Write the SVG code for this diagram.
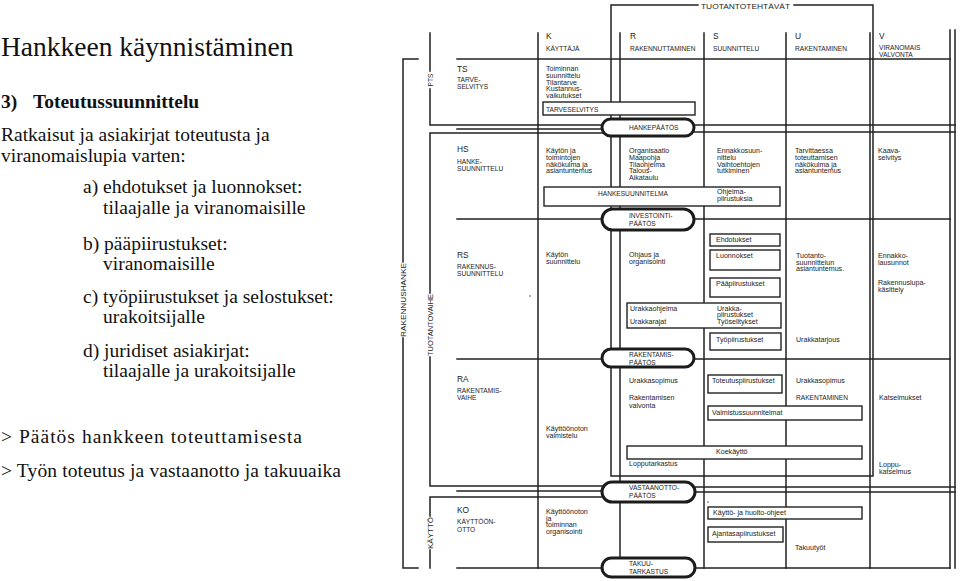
<svg xmlns="http://www.w3.org/2000/svg" width="960" height="581" viewBox="0 0 960 581">
<style>
.bg{fill:#fff}
.ser{font-family:"Liberation Serif","Times New Roman",serif;fill:#111;font-size:19.5px}
.t{font-family:"Liberation Sans",Arial,sans-serif;font-size:7.1px;fill:#1c1c1c}
.c{font-family:"Liberation Sans",Arial,sans-serif;font-size:6.6px;fill:#1c1c1c}
.h{font-family:"Liberation Sans",Arial,sans-serif;font-size:8.4px;fill:#1c1c1c}
.ln{fill:none;stroke:#222;stroke-width:1.5;stroke-linecap:square}
.box{fill:#fff;stroke:#222;stroke-width:1.4}
.pill{fill:#fff;stroke:#1c1c1c;stroke-width:3}
</style>
<rect class="bg" x="0" y="0" width="960" height="581"/>

<g id="left-text">
<text class="ser" x="1" y="56" style="font-size:27.5px">Hankkeen käynnistäminen</text>
<text class="ser" x="1" y="108" font-weight="bold">3)</text>
<text class="ser" x="33" y="108" font-weight="bold">Toteutussuunnittelu</text>
<text class="ser" x="1" y="141">Ratkaisut ja asiakirjat toteutusta ja</text>
<text class="ser" x="1" y="162">viranomaislupia varten:</text>
<text class="ser" x="83" y="193">a) ehdotukset ja luonnokset:</text>
<text class="ser" x="103" y="214">tilaajalle ja viranomaisille</text>
<text class="ser" x="83" y="250">b) pääpiirustukset:</text>
<text class="ser" x="103" y="270">viranomaisille</text>
<text class="ser" x="83" y="303">c) työpiirustukset ja selostukset:</text>
<text class="ser" x="103" y="323">urakoitsijalle</text>
<text class="ser" x="83" y="357">d) juridiset asiakirjat:</text>
<text class="ser" x="103" y="377">tilaajalle ja urakoitsijalle</text>
<text class="ser" x="1" y="443" textLength="301" lengthAdjust="spacing">&gt; Päätös hankkeen toteuttamisesta</text>
<text class="ser" x="1" y="477" textLength="340" lengthAdjust="spacing">&gt; Työn toteutus ja vastaanotto ja takuuaika</text>
</g>

<g id="connectors">
<path class="ln" d="M418,59 H403 V262 M403,338 V568 H418"/>
<path class="ln" d="M430,33 V71 M430,89 V125 H603"/>
<path class="ln" d="M457,129 H603"/>
<path class="ln" d="M603,133 H430 V293 M430,357 V486 H603"/>
<path class="ln" d="M457,491 H603"/>
<path class="ln" d="M603,497 H430 V516 M430,550 V568"/>
<path class="ln" d="M698,5 H611 V476 H873 V5 H794"/>
<path class="ln" d="M538,33 V568 M620,33 V568 M704,33 V568 M786,33 V568 M870,33 V568 M950,30 V568 M955,30 V568"/>
<path class="ln" d="M457,59 H950"/>
<path class="ln" d="M693,125 H955 M693,132 H955"/>
<path class="ln" d="M457,219 H603 M693,219 H950"/>
<path class="ln" d="M457,359 H603 M693,359 H950"/>
<path class="ln" d="M693,487 H955 M693,492 H955"/>
<path class="ln" d="M457,568 H603 M693,568 H950"/>
<circle cx="530" cy="296" r="0.8" fill="#444"/>
<circle cx="708" cy="502" r="0.8" fill="#444"/>
</g>

<g id="bracket-labels">
<text class="c" transform="translate(432.5,80) rotate(-90)" text-anchor="middle">PTS</text>
<text class="c" transform="translate(432.5,325) rotate(-90)" text-anchor="middle" textLength="62" lengthAdjust="spacingAndGlyphs">TUOTANTOVAIHE</text>
<text class="c" transform="translate(432.5,533) rotate(-90)" text-anchor="middle" textLength="32" lengthAdjust="spacingAndGlyphs">KÄYTTÖ</text>
<text class="c" transform="translate(405.5,300) rotate(-90)" text-anchor="middle" textLength="74" lengthAdjust="spacingAndGlyphs">RAKENNUSHANKE</text>
<text class="c" x="701" y="8.5" textLength="89" lengthAdjust="spacingAndGlyphs">TUOTANTOTEHTÄVÄT</text>
</g>

<g id="header">
<text class="h" x="546" y="39">K</text><text class="c" x="546" y="51">KÄYTTÄJÄ</text>
<text class="h" x="630" y="39">R</text><text class="c" x="630" y="51">RAKENNUTTAMINEN</text>
<text class="h" x="713" y="39">S</text><text class="c" x="713" y="51">SUUNNITTELU</text>
<text class="h" x="795" y="39">U</text><text class="c" x="795" y="51">RAKENTAMINEN</text>
<text class="h" x="879" y="39">V</text><text class="c" x="879" y="50">VIRANOMAIS</text><text class="c" x="879" y="57">VALVONTA</text>
</g>

<g id="row-ts">
<text class="h" x="457" y="72">TS</text>
<text class="c" x="457" y="82">TARVE-</text><text class="c" x="457" y="88.5">SELVITYS</text>
<text class="t" x="546" y="71">Toiminnan</text>
<text class="t" x="546" y="78">suunnittelu</text>
<text class="t" x="546" y="84.5">Tilantarve</text>
<text class="t" x="546" y="91">Kustannus-</text>
<text class="t" x="546" y="98">vaikutukset</text>
</g>
<g id="box-tarveselvitys">
<rect class="box" x="543" y="102" width="152" height="13"/>
<text class="c" x="546" y="111.5">TARVESELVITYS</text>
</g>
<g id="pill-hankepaatos">
<rect class="pill" x="602" y="119" width="92" height="17" rx="8.5"/>
<text class="c" x="629" y="130">HANKEPÄÄTÖS</text>
</g>

<g id="row-hs">
<text class="h" x="457" y="152">HS</text>
<text class="c" x="457" y="164">HANKE-</text><text class="c" x="457" y="170.5">SUUNNITTELU</text>
<text class="t" x="546" y="153">Käytön ja</text>
<text class="t" x="546" y="160">toimintojen</text>
<text class="t" x="546" y="166.5">näkökulma ja</text>
<text class="t" x="546" y="173">asiantuntemus</text>
<text class="t" x="629" y="153">Organisaatio</text>
<text class="t" x="629" y="160">Maapohja</text>
<text class="t" x="629" y="166.5">Tilaohjelma</text>
<text class="t" x="629" y="173">Talous-</text>
<text class="t" x="629" y="180">Aikataulu</text>
<text class="t" x="717" y="153">Ennakkosuun-</text>
<text class="t" x="717" y="160">nittelu</text>
<text class="t" x="717" y="166.5">Vaihtoehtojen</text>
<text class="t" x="717" y="173">tutkiminen</text>
<text class="t" x="795" y="153">Tarvittaessa</text>
<text class="t" x="795" y="160">toteuttamisen</text>
<text class="t" x="795" y="166.5">näkökulma ja</text>
<text class="t" x="795" y="173">asiantuntemus</text>
<text class="t" x="878" y="153">Kaava-</text>
<text class="t" x="878" y="160">selvitys</text>
</g>
<g id="box-hankesuunnitelma">
<rect class="box" x="544" y="187" width="236" height="19"/>
<text class="c" x="598" y="195.5">HANKESUUNNITELMA</text>
<text class="t" x="717" y="194">Ohjelma-</text>
<text class="t" x="717" y="201">piirustuksia</text>
</g>
<g id="pill-investointipaatos">
<rect class="pill" x="602" y="209" width="92" height="21" rx="10.5"/>
<text class="c" x="629" y="217.5">INVESTOINTI-</text>
<text class="c" x="629" y="226">PÄÄTÖS</text>
</g>

<g id="row-rs">
<text class="h" x="457" y="258">RS</text>
<text class="c" x="457" y="269">RAKENNUS-</text><text class="c" x="457" y="276">SUUNNITTELU</text>
<text class="t" x="546" y="257">Käytön</text>
<text class="t" x="546" y="263.5">suunnittelu</text>
<text class="t" x="629" y="257">Ohjaus ja</text>
<text class="t" x="629" y="263.5">organisointi</text>
<text class="t" x="796" y="258">Tuotanto-</text>
<text class="t" x="796" y="264.5">suunnittelun</text>
<text class="t" x="796" y="271">asiantuntemus.</text>
<text class="t" x="878" y="258">Ennakko-</text>
<text class="t" x="878" y="265">lausunnot</text>
<text class="t" x="878" y="285">Rakennuslupa-</text>
<text class="t" x="878" y="292">käsittely</text>
<text class="t" x="796" y="342">Urakkatarjous</text>
</g>
<g id="box-ehdotukset">
<rect class="box" x="710" y="234" width="70" height="12"/>
<text class="t" x="716" y="242">Ehdotukset</text>
</g>
<g id="box-luonnokset">
<rect class="box" x="710" y="250" width="70" height="20"/>
<text class="t" x="716" y="258">Luonnokset</text>
</g>
<g id="box-paapiirustukset">
<rect class="box" x="710" y="278" width="70" height="19"/>
<text class="t" x="716" y="285.5">Pääpiirustukset</text>
</g>
<g id="box-urakkaohjelma">
<rect class="box" x="627" y="303" width="154" height="25"/>
<text class="t" x="630" y="311">Urakkaohjelma</text>
<text class="t" x="630" y="324">Urakkarajat</text>
<text class="t" x="717" y="310.5">Urakka-</text>
<text class="t" x="717" y="317">piirustukset</text>
<text class="t" x="717" y="323.5">Työselitykset</text>
</g>
<g id="box-tyopiirustukset">
<rect class="box" x="710" y="333" width="71" height="17"/>
<text class="t" x="716" y="342">Työpiirustukset</text>
</g>
<g id="pill-rakentamispaatos">
<rect class="pill" x="602" y="349" width="92" height="18" rx="9"/>
<text class="c" x="629" y="357">RAKENTAMIS-</text>
<text class="c" x="629" y="365">PÄÄTÖS</text>
</g>

<g id="row-ra">
<text class="h" x="457" y="382">RA</text>
<text class="c" x="457" y="393">RAKENTAMIS-</text><text class="c" x="457" y="400">VAIHE</text>
<text class="t" x="629" y="382.5">Urakkasopimus</text>
<text class="t" x="629" y="400">Rakentamisen</text>
<text class="t" x="629" y="407.5">valvonta</text>
<text class="t" x="796" y="383">Urakkasopimus</text>
<text class="c" x="796" y="400">RAKENTAMINEN</text>
<text class="t" x="879" y="400">Katselmukset</text>
<text class="t" x="546" y="431">Käyttöönoton</text>
<text class="t" x="546" y="437.5">valmistelu</text>
<text class="t" x="629" y="466">Lopputarkastus</text>
<text class="t" x="879" y="467">Loppu-</text>
<text class="t" x="879" y="474">katselmus</text>
</g>
<g id="box-toteutuspiirustukset">
<rect class="box" x="708" y="375" width="74" height="18"/>
<text class="t" x="712" y="383">Toteutuspiirustukset</text>
</g>
<g id="box-valmistussuunnitelmat">
<rect class="box" x="708" y="406" width="154" height="14"/>
<text class="t" x="712" y="415">Valmistussuunnitelmat</text>
</g>
<g id="box-koekaytto">
<rect class="box" x="627" y="446" width="235" height="13"/>
<text class="t" x="716" y="454">Koekäyttö</text>
</g>
<g id="pill-vastaanottopaatos">
<rect class="pill" x="602" y="482" width="93" height="20" rx="10"/>
<text class="c" x="629" y="490">VASTAANOTTO-</text>
<text class="c" x="629" y="498">PÄÄTÖS</text>
</g>

<g id="row-ko">
<text class="h" x="457" y="513">KO</text>
<text class="c" x="457" y="524">KÄYTTÖÖN-</text><text class="c" x="457" y="532">OTTO</text>
<text class="t" x="546" y="514">Käyttöönoton</text>
<text class="t" x="546" y="520.5">ja</text>
<text class="t" x="546" y="527">toiminnan</text>
<text class="t" x="546" y="534">organisointi</text>
<text class="t" x="795" y="550">Takuutyöt</text>
</g>
<g id="box-kaytto-huolto">
<rect class="box" x="708" y="507" width="154" height="12"/>
<text class="t" x="713" y="515">Käyttö- ja huolto-ohjeet</text>
</g>
<g id="box-ajantasapiirustukset">
<rect class="box" x="708" y="527" width="75" height="15"/>
<text class="t" x="712" y="536">Ajantasapiirustukset</text>
</g>
<g id="pill-takuutarkastus">
<rect class="pill" x="602" y="558" width="93" height="19" rx="9.5"/>
<text class="c" x="629" y="565.5">TAKUU-</text>
<text class="c" x="629" y="573.5">TARKASTUS</text>
</g>
</svg>
